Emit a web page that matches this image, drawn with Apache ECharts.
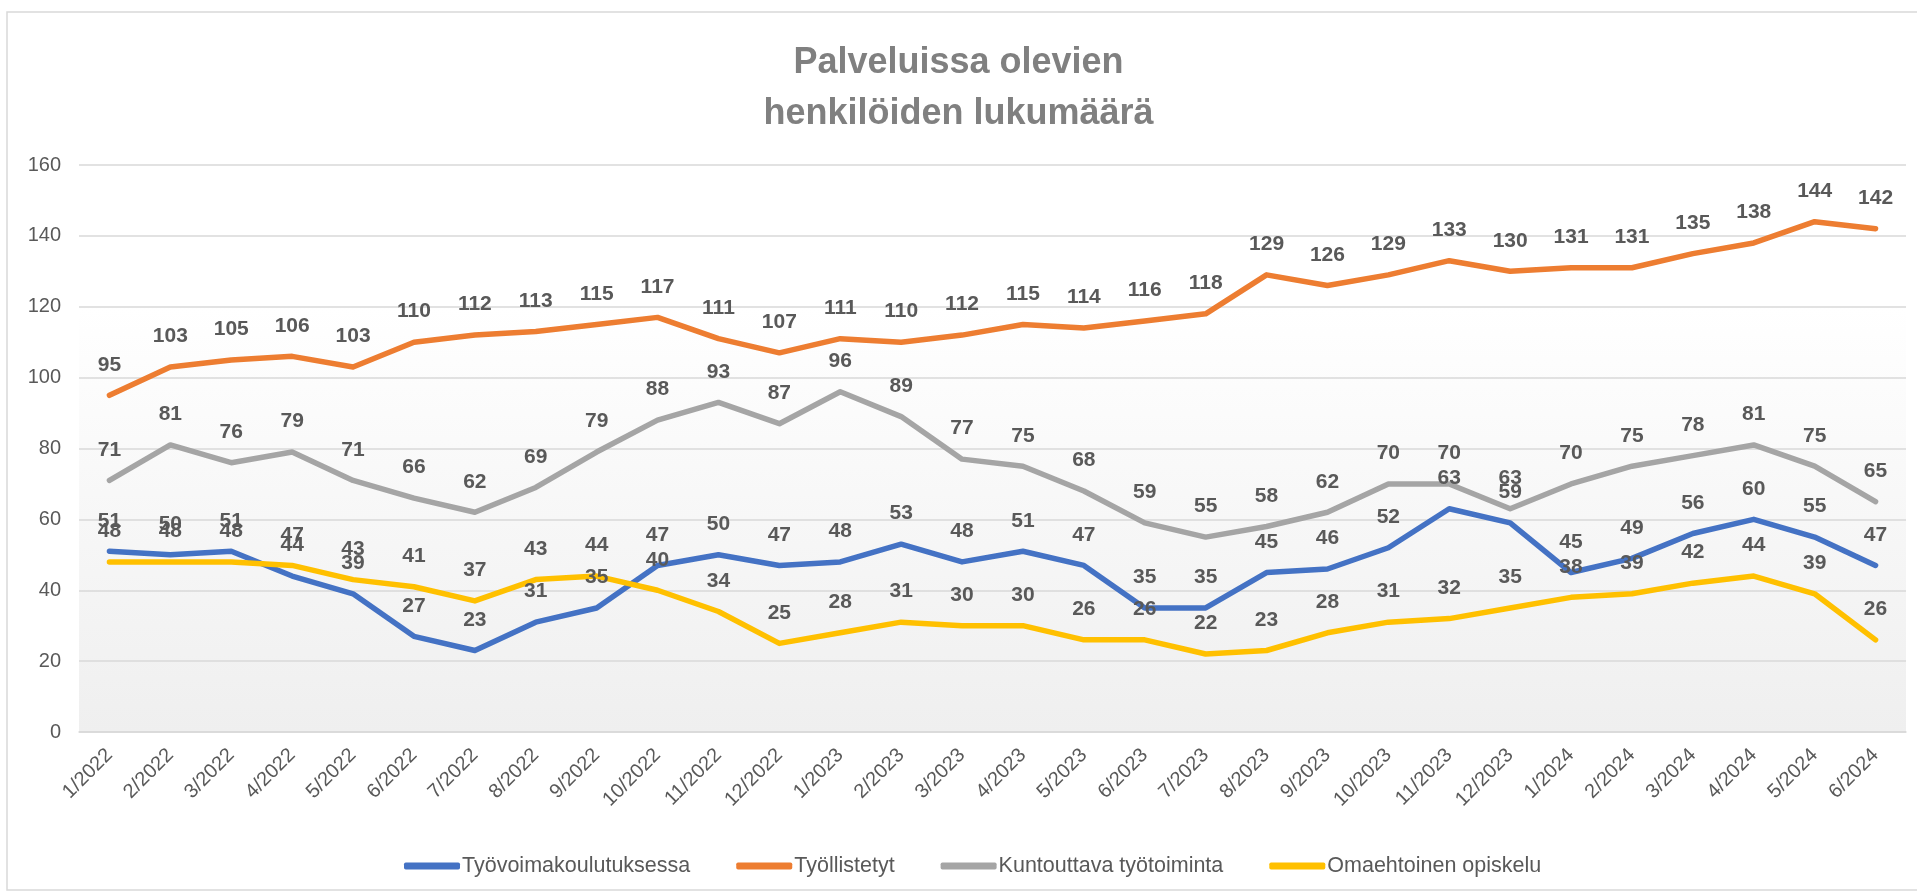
<!DOCTYPE html>
<html>
<head>
<meta charset="utf-8">
<script src="https://cdn.jsdelivr.net/npm/echarts@6/dist/echarts.min.js"></script>
<style>
html,body{margin:0;padding:0;background:#fff;}
#c{width:1917px;height:896px;}
</style>
</head>
<body>
<div id="c"></div>
<script>
const categories = ["1/2022","2/2022","3/2022","4/2022","5/2022","6/2022","7/2022","8/2022","9/2022","10/2022","11/2022","12/2022",
  "1/2023","2/2023","3/2023","4/2023","5/2023","6/2023","7/2023","8/2023","9/2023","10/2023","11/2023","12/2023",
  "1/2024","2/2024","3/2024","4/2024","5/2024","6/2024"];
const tyovoimakoulutuksessa = [51,50,51,44,39,27,23,31,35,47,50,47,48,53,48,51,47,35,35,45,46,52,63,59,45,49,56,60,55,47];
const tyollistetyt = [95,103,105,106,103,110,112,113,115,117,111,107,111,110,112,115,114,116,118,129,126,129,133,130,131,131,135,138,144,142];
const kuntouttava = [71,81,76,79,71,66,62,69,79,88,93,87,96,89,77,75,68,59,55,58,62,70,70,63,70,75,78,81,75,65];
const omaehtoinen = [48,48,48,47,43,41,37,43,44,40,34,25,28,31,30,30,26,26,22,23,28,31,32,35,38,39,42,44,39,26];
const seriesNames = ["Työvoimakoulutuksessa","Työllistetyt","Kuntouttava työtoiminta","Omaehtoinen opiskelu"];
const colors = ["#4472C4","#ED7D31","#A5A5A5","#FFC000"];
const yTicks = {min:0, max:160, interval:20};

const font = "'Liberation Sans', Arial, sans-serif";
const chart = echarts.init(document.getElementById('c'));
function mk(name, data, color){
  return {
    name, type:'line', data, symbol:'circle', symbolSize:0, showSymbol:true, smooth:false,
    lineStyle:{color, width:5.5, cap:'round', join:'round'},
    itemStyle:{color},
    label:{show:true, position:'top', distance:20, color:'#595959', fontWeight:'bold', fontSize:21, fontFamily:font},
    labelLayout:{hideOverlap:false},
    z: 3
  };
}
chart.setOption({
  animation:false,
  title:{
    text:'Palveluissa olevien\nhenkilöiden lukumäärä',
    left:'center', top:33,
    textStyle:{color:'#808080', fontSize:36, fontWeight:'bold', fontFamily:font, lineHeight:51}
  },
  graphic:[{type:'rect', shape:{x:7,y:12,width:1930,height:878}, style:{fill:'none', stroke:'#d9d9d9', lineWidth:1.5}, z:-10, silent:true}],
  legend:{
    top:850, left:399, itemWidth:56, itemHeight:7, itemGap:46, icon:'roundRect',
    textStyle:{color:'#595959', fontSize:21.5, fontFamily:font, padding:[0,0,0,-3]},
    data:seriesNames
  },
  grid:{left:79, right:11, top:165, bottom:164, show:true, borderWidth:0,
    backgroundColor:{type:'linear', x:0, y:0, x2:0, y2:1, colorStops:[{offset:0,color:'#ffffff'},{offset:0.25,color:'#ffffff'},{offset:1,color:'#efefef'}]}},
  xAxis:{
    type:'category', data:categories, boundaryGap:true,
    axisLine:{show:true, lineStyle:{color:'#d9d9d9', width:1.5}},
    axisTick:{show:false},
    axisLabel:{rotate:45, color:'#595959', fontSize:20, fontFamily:font, margin:20, interval:0}
  },
  yAxis:{
    type:'value', min:yTicks.min, max:yTicks.max, interval:yTicks.interval,
    axisLine:{show:false}, axisTick:{show:false},
    splitLine:{lineStyle:{color:'#d9d9d9', width:1.5}},
    axisLabel:{color:'#595959', fontSize:20, fontFamily:font, margin:18}
  },
  series:[
    mk(seriesNames[0], tyovoimakoulutuksessa, colors[0]),
    mk(seriesNames[1], tyollistetyt, colors[1]),
    mk(seriesNames[2], kuntouttava, colors[2]),
    mk(seriesNames[3], omaehtoinen, colors[3])
  ]
});
</script>
</body>
</html>
